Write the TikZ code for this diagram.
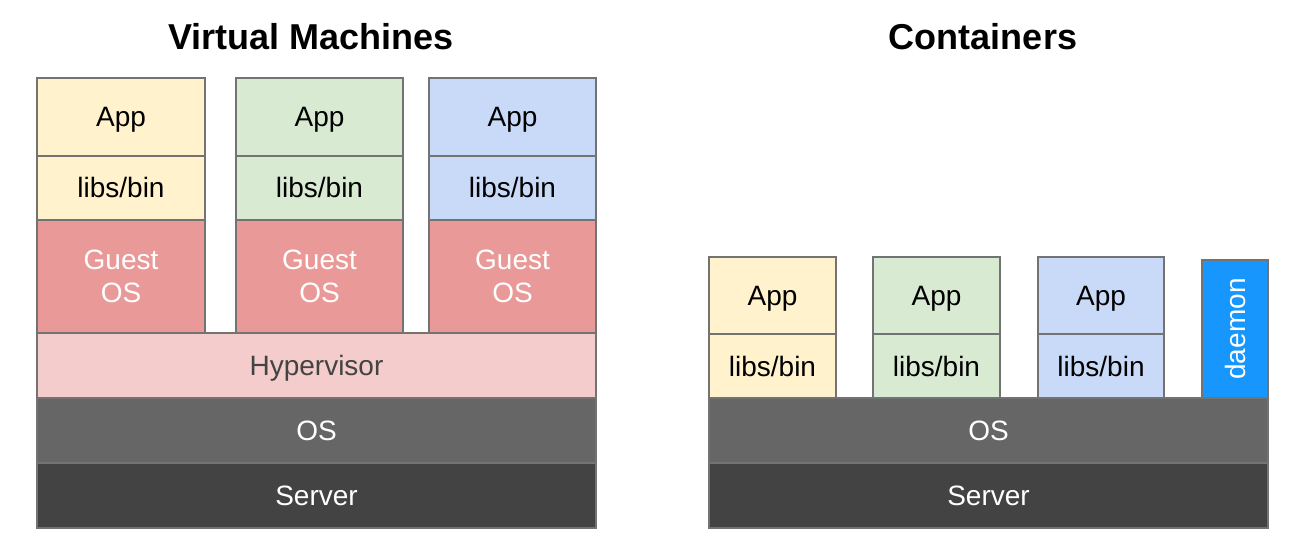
\documentclass[tikz,border=0pt]{standalone}
\usepackage{fontspec}
\setmainfont{Liberation Sans}
\definecolor{cyellow}{HTML}{FFF2CC}
\definecolor{cgreen}{HTML}{D9EAD3}
\definecolor{cblue}{HTML}{C9DAF8}
\definecolor{cguest}{HTML}{EA9999}
\definecolor{chyper}{HTML}{F4CCCC}
\definecolor{cos}{HTML}{666666}
\definecolor{cserver}{HTML}{434343}
\definecolor{cdaemon}{HTML}{1796FE}
\definecolor{cborder}{HTML}{737373}
\definecolor{chtext}{HTML}{434343}
\tikzset{
  layer/.style={draw=cborder, line width=1.4pt, inner sep=0pt, outer sep=0pt, anchor=north west,
    font=\fontsize{28}{32.6}\selectfont, align=center},
  oneline/.style={text height=20pt, text depth=0pt},
  twoline/.style={},
  titletext/.style={font=\fontsize{36}{40}\selectfont\bfseries}
}
\newcommand{\lay}[7]{% name, x1, y1, x2, y2, options, text
  \node[layer, #6, minimum width={#4-#2}, minimum height={#5-#3}] (#1) at (#2,#3) {#7};}
\begin{document}
\begin{tikzpicture}[x=1pt,y=-1pt]
\useasboundingbox (0,0) rectangle (1304,556);
\node[titletext] (t1) at (311,36.5) {Virtual Machines};
\node[titletext] (t2) at (983,36.5) {Containers};
% VM columns
\lay{a1}{37}{78}{205}{156}{fill=cyellow, oneline}{App}
\lay{l1}{37}{156}{205}{220}{fill=cyellow, oneline}{libs/bin}
\lay{g1}{37}{220}{205}{333}{fill=cguest, text=white}{Guest\\OS}
\lay{a2}{236}{78}{403}{156}{fill=cgreen, oneline}{App}
\lay{l2}{236}{156}{403}{220}{fill=cgreen, oneline}{libs/bin}
\lay{g2}{236}{220}{403}{333}{fill=cguest, text=white}{Guest\\OS}
\lay{a3}{429}{78}{596}{156}{fill=cblue, oneline}{App}
\lay{l3}{429}{156}{596}{220}{fill=cblue, oneline}{libs/bin}
\lay{g3}{429}{220}{596}{333}{fill=cguest, text=white}{Guest\\OS}
\lay{hv}{37}{333}{596}{398}{fill=chyper, oneline, text=chtext}{Hypervisor}
\lay{os1}{37}{398}{596}{463}{fill=cos, oneline, text=white}{OS}
\lay{sv1}{37}{463}{596}{528}{fill=cserver, oneline, text=white}{Server}
% Containers
\lay{ca1}{709}{257}{836}{334}{fill=cyellow, oneline}{App}
\lay{cl1}{709}{334}{836}{398}{fill=cyellow, oneline}{libs/bin}
\lay{ca2}{873}{257}{1000}{334}{fill=cgreen, oneline}{App}
\lay{cl2}{873}{334}{1000}{398}{fill=cgreen, oneline}{libs/bin}
\lay{ca3}{1038}{257}{1164}{334}{fill=cblue, oneline}{App}
\lay{cl3}{1038}{334}{1164}{398}{fill=cblue, oneline}{libs/bin}
\lay{dm}{1202}{260}{1268}{398}{fill=cdaemon}{}
\node[font=\fontsize{28}{32.6}\selectfont, oneline, inner sep=0pt, text=white, rotate=90] (dmt) at (dm.center) {daemon};
\lay{os2}{709}{398}{1268}{463}{fill=cos, oneline, text=white}{OS}
\lay{sv2}{709}{463}{1268}{528}{fill=cserver, oneline, text=white}{Server}
\end{tikzpicture}
\end{document}
